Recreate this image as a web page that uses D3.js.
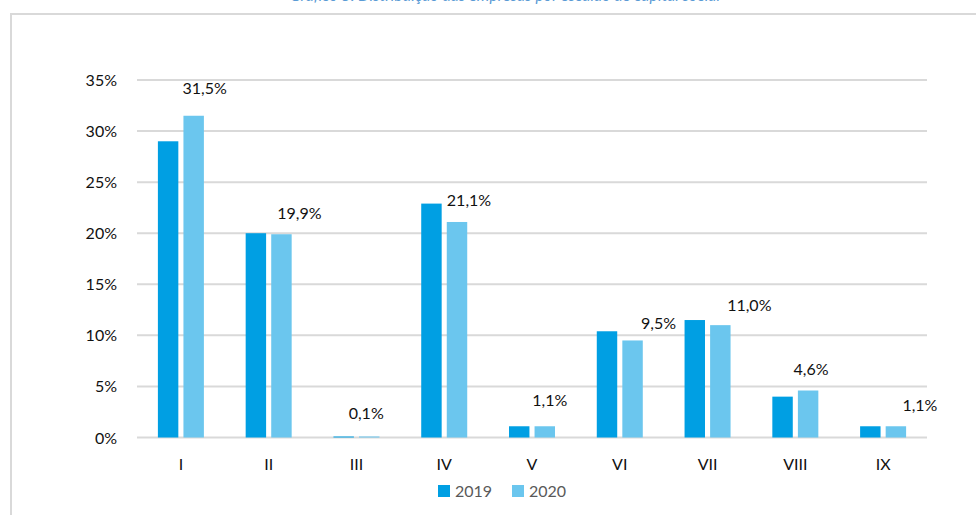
<!DOCTYPE html>
<html>
<head>
<meta charset="utf-8">
<script src="https://cdn.jsdelivr.net/npm/d3@7"></script>
<style>
  body { margin: 0; background: #fff; }
  svg { display: block; font-family: Lato, "Open Sans", sans-serif; }
</style>
</head>
<body>
<script>
// data
const categories = ["I", "II", "III", "IV", "V", "VI", "VII", "VIII", "IX"];
const years = ["2019", "2020"];
const values2019 = [29.0, 20.0, 0.1, 22.9, 1.1, 10.4, 11.5, 4.0, 1.1];
const values2020 = [31.5, 19.9, 0.1, 21.1, 1.1, 9.5, 11.0, 4.6, 1.1];
const yTicks = [0, 5, 10, 15, 20, 25, 30, 35];
// manual nudges of the 2020 labels (px), as in the original
const labelDx = [11, 18, -3, 12, 5, 26, 29, 3, 24];
const labelDy = [-22, -15, -17, -16, -20, -11, -14, -16, -15];

const width = 976, height = 515;
const colors = {"2019": "#009FE3", "2020": "#6BC6EE"};

const svg = d3.select("body").append("svg")
    .attr("width", width)
    .attr("height", height);

// outer frame (only top and left visible)
svg.append("rect")
    .attr("x", 11).attr("y", 14)
    .attr("width", 990).attr("height", 540)
    .attr("fill", "none")
    .attr("stroke", "#d9d9d9")
    .attr("stroke-width", 2);

// title, mostly cut off at the top (as in the source image)
svg.append("text")
    .attr("x", 505).attr("y", 1)
    .attr("text-anchor", "middle")
    .attr("font-style", "italic")
    .attr("font-size", 16)
    .attr("fill", "#5B9BD5")
    .text("Gráfico 5. Distribuição das empresas por escalão de capital social");

const x = d3.scaleBand()
    .domain(categories)
    .range([137, 927]);

const y = d3.scaleLinear()
    .domain([0, 35])
    .range([437.5, 80]);

const x1 = d3.scaleBand()
    .domain(years)
    .range([-23, 23])
    .paddingInner(0.2);

// grid
svg.append("g")
    .selectAll("line")
    .data(yTicks)
    .join("line")
    .attr("x1", 137).attr("x2", 927)
    .attr("y1", d => y(d)).attr("y2", d => y(d))
    .attr("stroke", "#d9d9d9")
    .attr("stroke-width", 2);

// y labels
svg.append("g")
    .selectAll("text")
    .data(yTicks)
    .join("text")
    .attr("x", 117)
    .attr("y", d => y(d) + 6)
    .attr("text-anchor", "end")
    .attr("font-size", 16)
    .attr("fill", "#111")
    .text(d => d + "%");

// x labels
svg.append("g")
    .selectAll("text")
    .data(categories)
    .join("text")
    .attr("x", d => x(d) + x.bandwidth() / 2)
    .attr("y", 470)
    .attr("text-anchor", "middle")
    .attr("font-size", 16)
    .attr("fill", "#111")
    .text(d => d);

const series = [
    {year: "2019", values: values2019},
    {year: "2020", values: values2020}
];

const bars = svg.append("g");
series.forEach(s => {
    bars.append("g")
        .selectAll("rect")
        .data(s.values)
        .join("rect")
        .attr("x", (d, i) => x(categories[i]) + x.bandwidth() / 2 + x1(s.year))
        .attr("width", x1.bandwidth())
        .attr("y", d => y(d))
        .attr("height", d => y(0) - y(d))
        .attr("fill", colors[s.year]);
});

// data labels on 2020
svg.append("g")
    .selectAll("text")
    .data(values2020)
    .join("text")
    .attr("x", (d, i) => x(categories[i]) + x.bandwidth() / 2 + x1("2020") + x1.bandwidth() / 2 + labelDx[i])
    .attr("y", (d, i) => y(d) + labelDy[i])
    .attr("text-anchor", "middle")
    .attr("font-size", 16)
    .attr("fill", "#111")
    .text(d => d.toFixed(1).replace(".", ",") + "%");

// legend
const legend = svg.append("g")
    .selectAll("g")
    .data(years)
    .join("g")
    .attr("transform", (d, i) => `translate(${438 + i * 74},485)`);

legend.append("rect")
    .attr("width", 12).attr("height", 12)
    .attr("fill", d => colors[d]);

legend.append("text")
    .attr("x", 17).attr("y", 12)
    .attr("font-size", 16)
    .attr("fill", "#595959")
    .text(d => d);
</script>
</body>
</html>
